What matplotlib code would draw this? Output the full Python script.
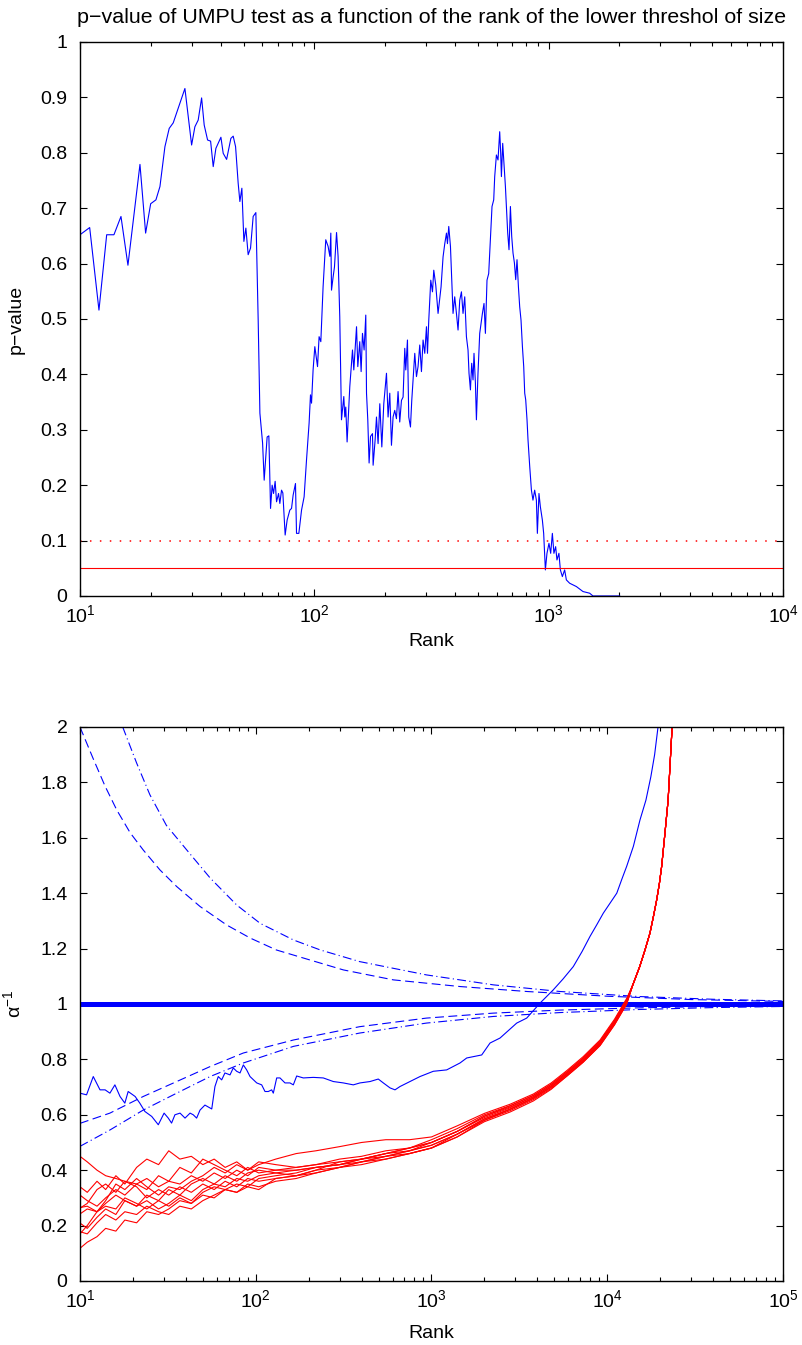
import numpy as np
import matplotlib
matplotlib.use("Agg")
import matplotlib.pyplot as plt

plt.rcParams['font.family'] = ['Liberation Sans', 'DejaVu Sans']
plt.rcParams['mathtext.fontset'] = 'custom'
plt.rcParams['mathtext.rm'] = 'Liberation Sans'
plt.rcParams['mathtext.it'] = 'Liberation Sans:italic'
plt.rcParams['mathtext.default'] = 'regular'

# ---------------- top panel data ----------------
pv_rank = [10, 11.0, 12.05, 13.0, 13.96, 14.96, 16.02, 18.03, 19.06, 20.03, 21.09, 21.94, 23.04, 24.03, 25.0,
           28.04, 29.95, 30.93, 31.95, 33.04, 33.89, 35.04, 36.09, 37.03, 38.02, 39.94, 40.85, 42.24, 44.05,
           45.06, 46.13, 47.32, 48.12, 49.07, 50.05, 51.04, 52.2, 53.44, 54.83, 56.3, 57.6, 58.58, 60.15, 61.1,
           62.9, 63.97, 65.04, 66.07, 66.99, 68.05, 69.0, 70.36, 71.27, 72.46, 73.4, 75.08, 76.56, 78.6, 79.94,
           81.2, 83.1, 83.95, 85.9, 88.2, 90.46, 92.6, 95.0, 96.3, 97.3, 98.8, 100.5, 103.2, 104.8, 106.6, 109.0,
           111.9, 114.5, 116.5, 117.6, 118.4, 120.3, 121.9, 124.4, 126.3, 128.4, 130.6, 133.6, 134.9, 136.2,
           138.0, 141.7, 145.5, 147.4, 151.4, 153.3, 156.3, 158.4, 160.5, 163.1, 165.8, 167.0, 169.1, 171.3,
           173.7, 177.1, 178.2, 181.7, 184.2, 187.1, 190.3, 194.1, 197.9, 203.2, 206.4, 209.9, 213.4, 216.8,
           220.4, 224.1, 227.7, 231.5, 235.4, 239.2, 243.2, 245.6, 249.7, 252.9, 257.2, 260.5, 263.8, 268.3,
           272.8, 277.1, 281.8, 286.5, 291.1, 296.0, 301.0, 304.0, 307.9, 310.9, 314.0, 319.3, 323.4, 329.8,
           337.3, 347.4, 354.3, 360.3, 366.4, 369.9, 374.7, 381.0, 384.8, 390.8, 397.3, 404.1, 410.5, 417.4,
           424.4, 431.1, 438.4, 445.7, 452.8, 457.2, 463.6, 469.5, 475.6, 480.2, 486.9, 491.7, 499.4, 507.9,
           521.5, 529.8, 537.1, 545.6, 554.8, 564.2, 573.1, 582.8, 588.5, 598.4, 607.9, 618.1, 624.2, 628.6,
           636.6, 644.8, 653.8, 660.2, 668.7, 677.3, 686.7, 695.5, 704.5, 714.3, 723.4, 732.7, 742.9, 752.3,
           762.1, 772.7, 782.6, 790.3, 798.1, 808.4, 816.3, 830.1, 844.1, 857.0, 871.5, 886.3, 895.0, 909.1,
           921.7, 940.0, 952.1, 968.2, 983.5, 1003, 1020, 1037, 1053, 1071, 1085, 1106, 1122, 1144, 1170, 1190,
           1229, 1313, 1401, 1496, 1545, 2009]
pv_value = [0.652, 0.665, 0.516, 0.652, 0.652, 0.685, 0.597, 0.779, 0.655, 0.708, 0.715, 0.739, 0.811, 0.844, 0.854,
            0.916, 0.814, 0.847, 0.859, 0.899, 0.850, 0.823, 0.821, 0.775, 0.808, 0.828, 0.799, 0.788, 0.826,
            0.830, 0.811, 0.745, 0.712, 0.736, 0.640, 0.664, 0.616, 0.628, 0.685, 0.692, 0.498, 0.330, 0.276, 0.209,
            0.287, 0.289, 0.158, 0.200, 0.185, 0.207, 0.170, 0.185, 0.167, 0.191, 0.186, 0.110, 0.137, 0.155, 0.158,
            0.182, 0.203, 0.113, 0.113, 0.155, 0.179, 0.245, 0.312, 0.363, 0.348, 0.408, 0.450, 0.414, 0.468, 0.459, 0.558,
            0.643, 0.631, 0.613, 0.655, 0.552, 0.576, 0.594, 0.656, 0.613, 0.504, 0.318, 0.360, 0.323, 0.341,
            0.278, 0.378, 0.444, 0.408, 0.486, 0.414, 0.459, 0.405, 0.474, 0.444, 0.507, 0.366, 0.318, 0.240,
            0.288, 0.293, 0.236, 0.281, 0.323, 0.275, 0.347, 0.269, 0.347, 0.402, 0.323, 0.366, 0.272, 0.323,
            0.335, 0.320, 0.369, 0.314, 0.353, 0.359, 0.447, 0.408, 0.462, 0.323, 0.305, 0.353, 0.390, 0.438,
            0.396, 0.414, 0.453, 0.405, 0.462, 0.438, 0.486, 0.438, 0.498, 0.534, 0.570, 0.549, 0.588, 0.561,
            0.510, 0.558, 0.612, 0.636, 0.655, 0.636, 0.667, 0.631, 0.582, 0.510, 0.540, 0.510, 0.480, 0.534,
            0.549, 0.510, 0.540, 0.468, 0.444, 0.402, 0.372, 0.420, 0.390, 0.438, 0.384, 0.318, 0.402, 0.474,
            0.510, 0.528, 0.474, 0.570, 0.582, 0.643, 0.703, 0.715, 0.757, 0.796, 0.787, 0.838, 0.799, 0.757,
            0.817, 0.781, 0.739, 0.703, 0.655, 0.625, 0.703, 0.649, 0.619, 0.601, 0.571, 0.607, 0.558, 0.522,
            0.498, 0.450, 0.414, 0.366, 0.354, 0.318, 0.282, 0.234, 0.191, 0.173, 0.191, 0.173, 0.113, 0.185,
            0.161, 0.137, 0.113, 0.047, 0.077, 0.095, 0.077, 0.113, 0.077, 0.089, 0.065, 0.077, 0.047, 0.035, 0.047, 0.029,
            0.023, 0.017, 0.008, 0.005, 0.0, 0.0]
sig_level = 0.05
sig_level_dotted = 0.1

# ---------------- bottom panel data ----------------
unit_level = 1.0

dash_up_rank = [10, 11.9, 13.9, 16.2, 19.3, 22.9, 28.5, 35.5, 48.2, 68.4, 93, 131, 203, 315, 607, 1450, 3500, 10000, 30000, 100000]
dash_up_val = [2.0, 1.885, 1.786, 1.70, 1.618, 1.556, 1.484, 1.424, 1.352, 1.285, 1.238, 1.195, 1.159, 1.123, 1.087, 1.063, 1.045, 1.028, 1.016, 1.009]
dashdot_up_rank = [17.5, 21, 25, 31, 40.5, 55, 78, 106, 164, 233, 390, 935, 2250, 5400, 15000, 40000, 100000]
dashdot_up_val = [2.0, 1.87, 1.755, 1.645, 1.556, 1.455, 1.357, 1.291, 1.231, 1.195, 1.153, 1.105, 1.069, 1.045, 1.027, 1.017, 1.011]
dash_lo_rank = [10, 14.8, 22.9, 35.5, 55, 85, 164, 390, 935, 2250, 5400, 15000, 40000, 100000]
dash_lo_val = [0.569, 0.606, 0.666, 0.72, 0.774, 0.823, 0.87, 0.918, 0.949, 0.967, 0.978, 0.986, 0.991, 0.994]
dashdot_lo_rank = [10, 14.8, 22.9, 35.5, 55, 85, 164, 390, 935, 2250, 5400, 15000, 40000, 100000]
dashdot_lo_val = [0.486, 0.545, 0.617, 0.678, 0.738, 0.787, 0.847, 0.895, 0.931, 0.955, 0.969, 0.98, 0.987, 0.991]

blue_rank = [10, 10.9, 11.9, 13.0, 13.9, 14.8, 15.8, 16.9, 18.0, 18.8, 20.6, 21.9, 23.4, 25.6, 27.9, 30.1, 31.8,
             33.2, 34.7, 37.1, 39.6, 42.3, 44.1, 46.1, 48.2, 51.4, 56.2, 58.6, 61.2, 64.0, 66.8, 71.4, 74.5, 77.9,
             81.4, 85.0, 88.8, 92.8, 101.3, 108.1, 112.9, 117.9, 123.2, 125.9, 131.6, 137.4, 146.7, 156.6, 163.6,
             171.0, 186.5, 212.6, 242.3, 276.3, 315.0, 359, 392, 447, 498, 532, 581, 620, 662, 788, 860, 1024,
             1220, 1453, 1586, 1931, 2153, 2454, 3054, 3481, 4144, 4930, 5600, 6410, 7200, 7980, 8700, 9500,
             10400, 11330, 12100, 12900, 14080, 15350, 16600, 17700, 18600, 19450, 20490]
blue_val = [0.678, 0.672, 0.738, 0.69, 0.69, 0.678, 0.708, 0.666, 0.642, 0.684, 0.666, 0.642, 0.612, 0.594, 0.564,
            0.606, 0.588, 0.57, 0.600, 0.606, 0.588, 0.606, 0.600, 0.588, 0.617, 0.635, 0.621, 0.702, 0.738, 0.726,
            0.751, 0.744, 0.769, 0.757, 0.751, 0.780, 0.762, 0.738, 0.715, 0.708, 0.684, 0.684, 0.69, 0.678, 0.733,
            0.733, 0.715, 0.715, 0.708, 0.740, 0.733, 0.735, 0.733, 0.72, 0.715, 0.708, 0.715, 0.72, 0.729, 0.715,
            0.697, 0.69, 0.702, 0.726, 0.738, 0.757, 0.762, 0.787, 0.805, 0.816, 0.859, 0.877, 0.931, 0.949, 1.003,
            1.051, 1.09, 1.135, 1.19, 1.244, 1.285, 1.328, 1.365, 1.40, 1.45, 1.497, 1.569, 1.664, 1.736, 1.82,
            1.90, 2.0, 2.1]

red_rank_early = [10, 11, 12.5, 14, 16, 18, 21, 24, 28, 32, 37, 43, 50, 58, 67, 78, 90, 104,
                  130, 170, 220, 300, 400, 550, 750, 1000, 1400, 2000, 2800, 3800, 4800, 5900, 7300, 9100,
                  11000, 12900]
red_runs = [
    [0.45, 0.43, 0.40, 0.38, 0.37, 0.36, 0.35, 0.37, 0.34, 0.36, 0.35, 0.38, 0.36, 0.39, 0.37, 0.40, 0.38, 0.41,
     0.40, 0.41, 0.42, 0.43, 0.44, 0.46, 0.48, 0.50, 0.54, 0.595, 0.628, 0.665, 0.705, 0.75, 0.80, 0.86, 0.935, 1.01],
    [0.34, 0.32, 0.36, 0.33, 0.38, 0.35, 0.41, 0.44, 0.42, 0.47, 0.44, 0.45, 0.42, 0.44, 0.41, 0.43, 0.40, 0.42,
     0.44, 0.46, 0.47, 0.485, 0.50, 0.51, 0.51, 0.52, 0.56, 0.605, 0.638, 0.675, 0.715, 0.76, 0.81, 0.87, 0.945, 1.02],
    [0.31, 0.29, 0.27, 0.30, 0.33, 0.31, 0.35, 0.33, 0.38, 0.36, 0.41, 0.39, 0.44, 0.42, 0.40, 0.38, 0.41, 0.39,
     0.40, 0.40, 0.41, 0.42, 0.44, 0.45, 0.47, 0.49, 0.53, 0.585, 0.62, 0.66, 0.70, 0.745, 0.795, 0.855, 0.93, 1.005],
    [0.265, 0.27, 0.25, 0.29, 0.35, 0.33, 0.37, 0.34, 0.31, 0.34, 0.33, 0.36, 0.38, 0.41, 0.39, 0.42, 0.40, 0.43,
     0.42, 0.41, 0.42, 0.44, 0.45, 0.47, 0.48, 0.51, 0.55, 0.60, 0.633, 0.67, 0.71, 0.755, 0.805, 0.865, 0.94, 1.015],
    [0.263, 0.28, 0.33, 0.35, 0.32, 0.36, 0.34, 0.30, 0.33, 0.31, 0.34, 0.32, 0.35, 0.33, 0.36, 0.34, 0.37, 0.36,
     0.37, 0.38, 0.40, 0.41, 0.43, 0.45, 0.46, 0.48, 0.52, 0.58, 0.615, 0.655, 0.695, 0.74, 0.79, 0.85, 0.925, 1.00],
    [0.242, 0.26, 0.25, 0.27, 0.26, 0.30, 0.28, 0.26, 0.29, 0.33, 0.31, 0.35, 0.37, 0.35, 0.38, 0.36, 0.39, 0.40,
     0.39, 0.40, 0.41, 0.42, 0.44, 0.46, 0.47, 0.50, 0.54, 0.59, 0.625, 0.665, 0.705, 0.75, 0.80, 0.86, 0.935, 1.01],
    [0.209, 0.19, 0.23, 0.26, 0.24, 0.29, 0.27, 0.31, 0.29, 0.27, 0.30, 0.28, 0.32, 0.34, 0.33, 0.35, 0.34, 0.37,
     0.38, 0.39, 0.41, 0.42, 0.43, 0.45, 0.47, 0.49, 0.53, 0.585, 0.62, 0.66, 0.70, 0.745, 0.795, 0.855, 0.93, 1.005],
    [0.178, 0.17, 0.21, 0.24, 0.22, 0.25, 0.24, 0.27, 0.25, 0.24, 0.27, 0.26, 0.29, 0.31, 0.33, 0.32, 0.35, 0.34,
     0.36, 0.37, 0.39, 0.41, 0.42, 0.44, 0.46, 0.48, 0.52, 0.575, 0.61, 0.65, 0.692, 0.74, 0.79, 0.85, 0.925, 1.00],
    [0.170, 0.20, 0.25, 0.28, 0.31, 0.29, 0.27, 0.29, 0.26, 0.28, 0.31, 0.29, 0.33, 0.35, 0.34, 0.37, 0.36, 0.38,
     0.39, 0.38, 0.40, 0.43, 0.44, 0.46, 0.48, 0.50, 0.54, 0.595, 0.632, 0.67, 0.71, 0.755, 0.805, 0.865, 0.94, 1.015],
    [0.118, 0.14, 0.16, 0.19, 0.18, 0.22, 0.21, 0.25, 0.24, 0.26, 0.29, 0.28, 0.31, 0.30, 0.33, 0.32, 0.34, 0.33,
     0.37, 0.38, 0.39, 0.41, 0.43, 0.44, 0.46, 0.48, 0.53, 0.58, 0.62, 0.66, 0.70, 0.745, 0.795, 0.855, 0.93, 1.01],
]
red_rank_tail = [14000, 15300, 16400, 17500, 18300, 19100, 19800, 20400, 21300, 22200, 23300, 24500]
red_val_tail = [1.07, 1.135, 1.195, 1.256, 1.315, 1.375, 1.435, 1.497, 1.617, 1.736, 1.98, 2.2]

# ---------------- figure ----------------
fig = plt.figure(figsize=(8.03, 13.45), dpi=100)
ax1 = fig.add_axes([0.0996, 0.5569, 0.8755, 0.4119])
ax2 = fig.add_axes([0.0996, 0.0476, 0.8755, 0.4119])

FS = 14
BLUE = (0, 0, 1)
RED = (1, 0, 0)


def style(ax):
    ax.set_xscale('log')
    ax.tick_params(which='both', direction='in', top=True, right=True, labelsize=FS, width=0.8)
    ax.tick_params(axis='y', which='both', pad=9)
    ax.tick_params(axis='x', which='both', pad=6)
    ax.tick_params(which='major', length=5)
    ax.tick_params(which='minor', length=3)
    for s in ax.spines.values():
        s.set_linewidth(1.0)


ax1.plot(pv_rank, pv_value, color=BLUE, lw=0.8)
ax1.axhline(sig_level, color=RED, lw=0.8)
ax1.axhline(sig_level_dotted, color=RED, lw=1.1, dashes=(1, 5.5))
style(ax1)
ax1.set_xlim(10, 1e4)
ax1.set_ylim(0, 1)
ax1.set_yticks(np.arange(0, 1.01, 0.1))
ax1.set_yticklabels(['0', '0.1', '0.2', '0.3', '0.4', '0.5', '0.6', '0.7', '0.8', '0.9', '1'])
ax1.set_xlabel('Rank', fontsize=FS)
ax1.xaxis.set_label_coords(0.5, -0.066)
ax1.set_ylabel('p\u2212value', fontsize=FS)
ax1.yaxis.set_label_coords(-0.078, 0.5)
ax1.set_title('p\u2212value of UMPU test as a function of the rank of the lower threshol of size',
              fontsize=15.4, pad=14)

ax2.plot(dash_up_rank, dash_up_val, color=BLUE, lw=0.8, dashes=(8, 4))
ax2.plot(dash_lo_rank, dash_lo_val, color=BLUE, lw=0.8, dashes=(8, 4))
ax2.plot(dashdot_up_rank, dashdot_up_val, color=BLUE, lw=0.8, dashes=(8, 3, 1, 3))
ax2.plot(dashdot_lo_rank, dashdot_lo_val, color=BLUE, lw=0.8, dashes=(8, 3, 1, 3))
ax2.axhline(unit_level, color=BLUE, lw=3.6)
ax2.plot(blue_rank, blue_val, color=BLUE, lw=0.8)
for run in red_runs:
    ax2.plot(red_rank_early + red_rank_tail, run + red_val_tail, color=RED, lw=0.8)
style(ax2)
ax2.set_xlim(10, 1e5)
ax2.set_ylim(0, 2)
ax2.set_yticks(np.arange(0, 2.01, 0.2))
ax2.set_yticklabels(['0', '0.2', '0.4', '0.6', '0.8', '1', '1.2', '1.4', '1.6', '1.8', '2'])
ax2.set_xlabel('Rank', fontsize=FS)
ax2.xaxis.set_label_coords(0.5, -0.08)
ax2.set_ylabel('$\\alpha^{-1}$', fontsize=FS)
ax2.yaxis.set_label_coords(-0.08, 0.5)

fig.savefig('out.png', dpi=100)
